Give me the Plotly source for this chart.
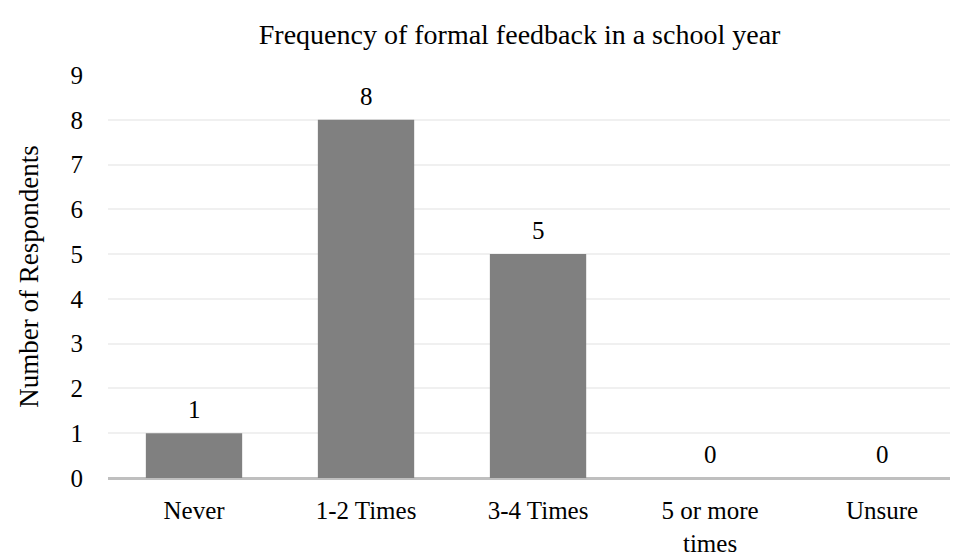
import plotly.graph_objects as go

categories = ["Never", "1-2 Times", "3-4 Times", "5 or more<br>times", "Unsure"]
values = [1, 8, 5, 0, 0]
y_ticks = [0, 1, 2, 3, 4, 5, 6, 7, 8, 9]

FONT = "Liberation Serif, Times New Roman, serif"
xs = list(range(len(categories)))

fig = go.Figure(
    go.Bar(
        x=xs,
        y=values,
        marker=dict(color="#808080", line=dict(width=0)),
        width=0.56,
        hoverinfo="x+y",
    )
)

for x, v in zip(xs, values):
    fig.add_annotation(
        x=x, y=v, text=str(v), showarrow=False,
        xanchor="center", yanchor="bottom", yshift=8,
        font=dict(family=FONT, size=25, color="#000000"),
    )

fig.update_layout(
    width=958,
    height=555,
    paper_bgcolor="white",
    plot_bgcolor="white",
    margin=dict(l=100, r=0, t=67, b=85),
    showlegend=False,
    title=dict(
        text="Frequency of formal feedback in a school year",
        x=0.534,
        xanchor="center",
        y=0.953,
        yanchor="middle",
        font=dict(family=FONT, size=28, color="#000000"),
    ),
    xaxis=dict(
        tickmode="array",
        tickvals=xs,
        ticktext=categories,
        range=[-0.5, 4.488],
        showgrid=False,
        zeroline=False,
        showline=False,
        ticks="",
        ticklabelstandoff=15,
        tickfont=dict(family=FONT, size=25, color="#000000"),
        fixedrange=True,
    ),
    yaxis=dict(
        range=[0, 9],
        tickmode="array",
        tickvals=y_ticks,
        ticktext=[str(t) for t in y_ticks],
        showgrid=True,
        gridcolor="#F0F0F0",
        gridwidth=1.5,
        zeroline=True,
        zerolinecolor="#BFBFBF",
        zerolinewidth=3,
        showline=False,
        ticks="",
        ticklabelstandoff=24,
        tickfont=dict(family=FONT, size=25, color="#000000"),
        title=dict(text="Number of Respondents", font=dict(family=FONT, size=27, color="#000000"), standoff=24),
        fixedrange=True,
    ),
)

fig.write_html("out.html")
